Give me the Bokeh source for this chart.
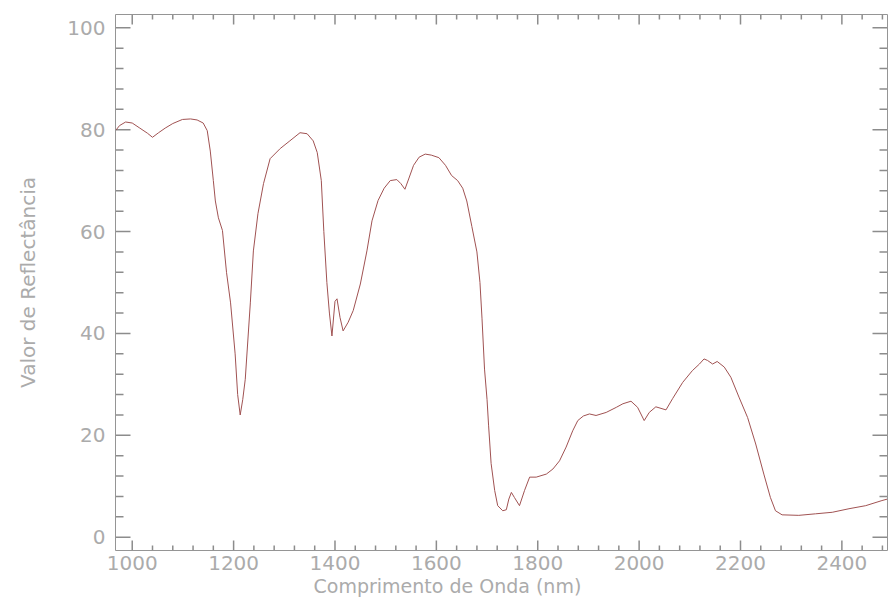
import math
from bokeh.plotting import figure
from bokeh.models import (Range1d, LinearAxis, SingleIntervalTicker, Title,
                          CustomJSTickFormatter)
from bokeh.embed import file_html
from bokeh.resources import INLINE

wavelength = [967, 975, 987, 1000, 1015, 1030, 1040, 1052, 1065, 1080, 1099, 1115,
              1128, 1140, 1148, 1154, 1160, 1164, 1170, 1178, 1186, 1194, 1203, 1208,
              1213, 1218, 1223, 1233, 1239, 1248, 1259, 1272, 1292, 1311, 1331, 1345,
              1357, 1365, 1373, 1378, 1384, 1389, 1394, 1400, 1404, 1410, 1416, 1426,
              1436, 1450, 1463, 1473, 1485, 1497, 1509, 1522, 1530, 1538, 1546, 1555,
              1566, 1578, 1590, 1605, 1618, 1630, 1642, 1652, 1660, 1670, 1680, 1686,
              1690, 1695, 1700, 1703, 1708, 1715, 1721, 1731, 1738, 1743, 1748, 1754,
              1764, 1774, 1784, 1797, 1817, 1830, 1843, 1856, 1869, 1879, 1890, 1902,
              1915, 1935, 1955, 1968, 1984, 1997, 2010, 2020, 2033, 2053, 2066, 2086,
              2105, 2119, 2128, 2135, 2145, 2154, 2168, 2181, 2197, 2214, 2230, 2246,
              2259, 2269, 2282, 2315, 2348, 2381, 2414, 2447, 2479, 2490]
reflectance = [79.8, 80.8, 81.5, 81.3, 80.3, 79.3, 78.5, 79.4, 80.3, 81.2, 82.0, 82.1,
               81.9, 81.3, 79.8, 75.8, 70.0, 66.0, 62.7, 60.2, 52.0, 46.0, 36.0, 28.0,
               24.0, 27.0, 31.0, 46.0, 56.2, 63.5, 69.4, 74.3, 76.3, 77.8, 79.4, 79.2,
               77.8, 75.5, 70.0, 60.0, 50.0, 44.0, 39.5, 46.3, 46.8, 43.1, 40.5, 42.2,
               44.5, 49.7, 56.2, 62.1, 66.1, 68.5, 70.0, 70.2, 69.4, 68.3, 70.5, 73.0,
               74.6, 75.2, 75.0, 74.5, 73.0, 71.0, 70.0, 68.5, 66.0, 61.0, 56.0, 50.0,
               43.0, 33.0, 27.0, 22.0, 14.5, 9.2, 6.2, 5.2, 5.4, 7.5, 8.8, 7.8,
               6.2, 9.2, 11.8, 11.8, 12.4, 13.4, 15.0, 17.7, 20.9, 22.9, 23.8, 24.2,
               23.9, 24.5, 25.5, 26.2, 26.7, 25.5, 22.9, 24.5, 25.6, 25.0, 27.2, 30.4,
               32.7, 34.0, 35.0, 34.7, 34.0, 34.5, 33.4, 31.4, 27.5, 23.5, 18.3, 12.4,
               7.8, 5.2, 4.4, 4.3, 4.6, 4.9, 5.6, 6.2, 7.2, 7.5]

x_tick_labels = [1000, 1200, 1400, 1600, 1800, 2000, 2200, 2400]
y_tick_labels = [0, 20, 40, 60, 80, 100]
x_minor_per_major = 4
y_minor_per_major = 4
x_title = "Comprimento de Onda (nm)"
y_title = "Valor de Reflectância"

FONT = "DejaVu Sans"
TXT = "#ababab"
AX = "#959595"
TICK = "#8c8c8c"

X0, X1 = 967, 2490
Y0, Y1 = -2.6, 102.6

p = figure(width=888, height=602, output_backend="svg", toolbar_location=None,
           x_range=Range1d(X0, X1), y_range=Range1d(Y0, Y1),
           min_border_left=115, min_border_right=1, min_border_top=14,
           min_border_bottom=52, outline_line_color=None,
           background_fill_color="white", border_fill_color="white")
p.grid.visible = False

x_step = x_tick_labels[1] - x_tick_labels[0]
y_step = y_tick_labels[1] - y_tick_labels[0]
x_minor = []
k = x_tick_labels[0] - x_step
while k <= X1:
    for j in range(1, x_minor_per_major + 1):
        v = k + j * x_step / (x_minor_per_major + 1)
        if X0 < v < X1:
            x_minor.append(float(v))
    k += x_step
x_major = [float(v) for v in x_tick_labels if X0 <= v <= X1]
y_minor = []
k = y_tick_labels[0] - y_step
while k <= Y1:
    for j in range(1, y_minor_per_major + 1):
        v = k + j * y_step / (y_minor_per_major + 1)
        if Y0 < v < Y1:
            y_minor.append(float(v))
    k += y_step
y_major = [float(v) for v in y_tick_labels]

def ticks(xs, ys, length, angle):
    p.ray(x=xs, y=ys, length=length, length_units="screen", angle=angle,
          line_color=TICK, line_width=1.5)

ticks(x_major, [Y0] * len(x_major), 10, math.pi / 2)
ticks(x_minor, [Y0] * len(x_minor), 5, math.pi / 2)
ticks(x_major, [Y1] * len(x_major), 10, -math.pi / 2)
ticks(x_minor, [Y1] * len(x_minor), 5, -math.pi / 2)
ticks([X0] * len(y_major), y_major, 15, 0.0)
ticks([X0] * len(y_minor), y_minor, 8, 0.0)
ticks([X1] * len(y_major), y_major, 15, math.pi)
ticks([X1] * len(y_minor), y_minor, 8, math.pi)

p.line(wavelength, reflectance, line_color="#a05252", line_width=1)

blank = CustomJSTickFormatter(code="return ''")

def style(ax, ticker, labels=True):
    ax.ticker = ticker
    ax.axis_line_color = AX
    ax.major_tick_line_color = None
    ax.minor_tick_line_color = None
    ax.major_tick_in = 0
    ax.major_tick_out = 0
    ax.minor_tick_in = 0
    ax.minor_tick_out = 0
    ax.major_label_text_font = FONT
    ax.major_label_text_color = TXT
    if labels:
        ax.major_label_text_font_size = "20px"
    else:
        ax.major_label_text_font_size = "0px"
        ax.major_label_standoff = 0
        ax.formatter = blank

xa = p.xaxis[0]
style(xa, SingleIntervalTicker(interval=x_step))
xa.major_label_standoff = 5

ya = p.yaxis[0]
style(ya, SingleIntervalTicker(interval=y_step))
ya.major_label_standoff = 10
ya.axis_label = y_title
ya.axis_label_text_font = FONT
ya.axis_label_text_font_size = "20px"
ya.axis_label_text_font_style = "normal"
ya.axis_label_text_color = TXT
ya.axis_label_standoff = 24

top = LinearAxis()
style(top, SingleIntervalTicker(interval=x_step), labels=False)
p.add_layout(top, "above")

right = LinearAxis()
style(right, SingleIntervalTicker(interval=y_step), labels=False)
p.add_layout(right, "right")

t = Title(text=x_title, align="left", offset=198, text_font=FONT,
          text_font_size="19px", text_font_style="normal", text_color=TXT,
          standoff=0)
p.add_layout(t, "below")

open("out.html", "w").write(file_html(p, INLINE))
